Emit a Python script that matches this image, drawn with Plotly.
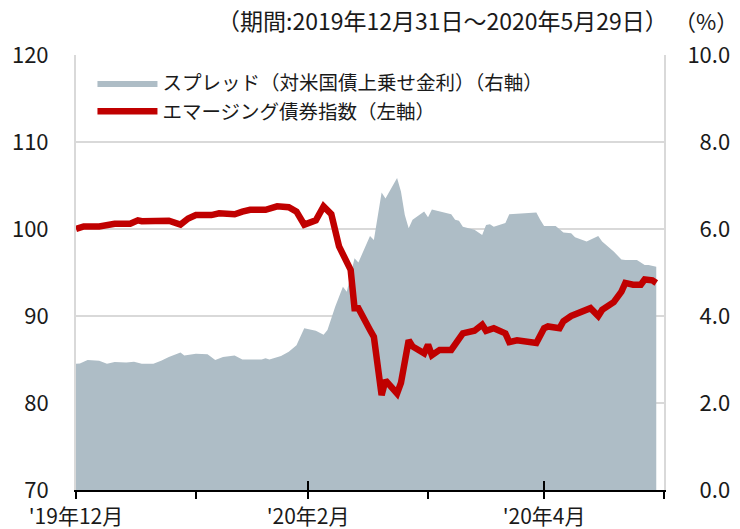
import plotly.graph_objects as go

# ---------------- data ----------------
spread_dates = [
    "2019-12-31", "2020-01-01", "2020-01-03", "2020-01-06", "2020-01-08", "2020-01-10",
    "2020-01-13", "2020-01-15", "2020-01-17", "2020-01-20", "2020-01-22", "2020-01-24",
    "2020-01-27", "2020-01-28", "2020-01-31", "2020-02-03", "2020-02-05", "2020-02-07",
    "2020-02-10", "2020-02-12", "2020-02-15", "2020-02-17", "2020-02-18", "2020-02-19",
    "2020-02-22", "2020-02-24", "2020-02-26", "2020-02-28", "2020-03-02", "2020-03-04",
    "2020-03-05", "2020-03-07", "2020-03-09", "2020-03-10", "2020-03-12", "2020-03-13",
    "2020-03-16", "2020-03-17", "2020-03-19", "2020-03-20", "2020-03-23", "2020-03-24",
    "2020-03-25", "2020-03-26", "2020-03-27", "2020-03-30", "2020-03-31", "2020-04-01",
    "2020-04-06", "2020-04-07", "2020-04-08", "2020-04-09", "2020-04-12", "2020-04-14",
    "2020-04-15", "2020-04-16", "2020-04-17", "2020-04-20", "2020-04-21", "2020-04-24",
    "2020-04-28", "2020-04-29", "2020-04-30", "2020-05-03", "2020-05-05", "2020-05-07",
    "2020-05-08", "2020-05-11", "2020-05-14", "2020-05-15", "2020-05-18", "2020-05-20",
    "2020-05-21", "2020-05-24", "2020-05-26", "2020-05-27", "2020-05-29",
]
spread_values = [
    2.90, 2.91, 2.99, 2.97, 2.90, 2.94,
    2.93, 2.95, 2.90, 2.90, 2.97, 3.06,
    3.16, 3.09, 3.13, 3.12, 2.99, 3.06,
    3.09, 3.00, 3.00, 3.00, 3.03, 3.00,
    3.08, 3.18, 3.33, 3.72, 3.66, 3.57,
    3.68, 4.21, 4.67, 4.56, 5.33, 5.23,
    5.84, 5.75, 6.84, 6.70, 7.17, 6.86,
    6.32, 6.02, 6.21, 6.40, 6.27, 6.45,
    6.34, 6.21, 6.19, 6.05, 5.98, 5.86,
    6.09, 6.11, 6.05, 6.14, 6.34, 6.36,
    6.38, 6.21, 6.07, 6.07, 5.92, 5.90,
    5.81, 5.71, 5.84, 5.71, 5.48, 5.30,
    5.29, 5.29, 5.17, 5.17, 5.13,
]

index_dates = [
    "2019-12-31", "2020-01-02", "2020-01-06", "2020-01-08", "2020-01-10", "2020-01-14",
    "2020-01-16", "2020-01-17", "2020-01-22", "2020-01-24", "2020-01-27", "2020-01-29",
    "2020-01-31", "2020-02-04", "2020-02-06", "2020-02-10", "2020-02-12", "2020-02-14",
    "2020-02-18", "2020-02-19", "2020-02-21", "2020-02-24", "2020-02-26", "2020-02-28",
    "2020-03-02", "2020-03-04", "2020-03-06", "2020-03-08", "2020-03-09", "2020-03-11",
    "2020-03-12", "2020-03-13", "2020-03-16", "2020-03-17", "2020-03-19", "2020-03-20",
    "2020-03-23", "2020-03-24", "2020-03-26", "2020-03-27", "2020-03-30", "2020-03-31",
    "2020-04-01", "2020-04-03", "2020-04-06", "2020-04-07", "2020-04-09", "2020-04-12",
    "2020-04-14", "2020-04-15", "2020-04-17", "2020-04-20", "2020-04-21", "2020-04-23",
    "2020-04-28", "2020-04-30", "2020-05-01", "2020-05-04", "2020-05-05", "2020-05-07",
    "2020-05-12", "2020-05-14", "2020-05-15", "2020-05-18", "2020-05-20", "2020-05-21",
    "2020-05-23", "2020-05-25", "2020-05-26", "2020-05-28", "2020-05-29",
]
index_values = [
    100.0, 100.3, 100.3, 100.5, 100.6, 100.6,
    101.0, 100.9, 101.0, 100.95, 100.5, 101.2,
    101.6, 101.6, 101.8, 101.7, 102.0, 102.2,
    102.2, 102.3, 102.6, 102.5, 102.0, 100.5,
    101.0, 102.6, 101.7, 98.0, 97.2, 95.3,
    90.9, 90.9, 88.4, 87.6, 80.9, 82.6,
    81.1, 82.3, 87.2, 86.5, 85.7, 86.7,
    85.5, 86.1, 86.1, 86.7, 88.0, 88.3,
    89.0, 88.3, 88.6, 88.0, 87.0, 87.2,
    86.9, 88.6, 88.8, 88.6, 89.4, 90.0,
    90.9, 90.0, 90.7, 91.6, 92.8, 93.8,
    93.6, 93.6, 94.2, 94.1, 93.8,
]

spread_name = "スプレッド（対米国債上乗せ金利）（右軸）"
index_name = "エマージング債券指数（左軸）"

x_range = ["2019-12-31", "2020-05-31"]
month_end_ticks = ["2019-12-31", "2020-01-31", "2020-02-29", "2020-03-31", "2020-04-30", "2020-05-31"]
month_tick_labels = ["'19年12月", "", "'20年2月", "", "'20年4月", ""]
major_ticks = ["2019-12-31", "2020-02-29", "2020-04-30"]

left_ticks = [70, 80, 90, 100, 110, 120]
right_ticks = [0, 2, 4, 6, 8, 10]
right_tick_labels = ["\u20070.0", "\u20072.0", "\u20074.0", "\u20076.0", "\u20078.0", "10.0"]

period_text = "（期間:2019年12月31日～2020年5月29日）"
unit_text = "（%）"

# ---------------- style ----------------
FONT = "Noto Sans CJK JP"
AREA = "#aebdc6"
RED = "#c00000"
GRID = "#d9d9d9"
TXT = "#1a1a1a"

fig = go.Figure()
fig.add_trace(go.Scatter(
    x=spread_dates, y=spread_values, name=spread_name, legendgroup="spread",
    mode="lines", fill="tozeroy", fillcolor=AREA,
    line=dict(width=0, color=AREA),
    xaxis="x", yaxis="y",
))
fig.add_trace(go.Scatter(
    x=index_dates, y=index_values, name=index_name, legendgroup="index",
    mode="lines", line=dict(width=6.5, color=RED),
    xaxis="x2", yaxis="y2",
))

fig.update_layout(
    width=740, height=529,
    margin=dict(l=76, r=76, t=55, b=39, autoexpand=False),
    paper_bgcolor="white", plot_bgcolor="white",
    font=dict(family=FONT, size=22, color=TXT),
    showlegend=True,
    legend=dict(
        x=0.028, y=0.980, xanchor="left", yanchor="top",
        bgcolor="rgba(0,0,0,0)", font=dict(size=19.5, color=TXT),
        itemwidth=60, traceorder="grouped", tracegroupgap=0,
    ),
    xaxis=dict(
        type="date", range=x_range, automargin=False,
        tickmode="array", tickvals=month_end_ticks, ticktext=month_tick_labels,
        ticks="outside", ticklen=7, tickwidth=2, tickcolor="black",
        showline=True, linecolor="black", linewidth=2,
        showgrid=False, zeroline=False,
        tickfont=dict(size=21, color=TXT), ticklabelstandoff=0,
    ),
    xaxis2=dict(
        type="date", range=x_range, overlaying="x", anchor="y2", automargin=False,
        tickmode="array", tickvals=major_ticks,
        ticks="inside", ticklen=9, tickwidth=2, tickcolor="black",
        showticklabels=False, showline=False, showgrid=False, zeroline=False,
    ),
    yaxis=dict(
        side="right", range=[0, 10], automargin=False,
        tickmode="array", tickvals=right_ticks, ticktext=right_tick_labels,
        ticks="", showgrid=True, gridcolor=GRID, gridwidth=2,
        showline=True, linecolor=GRID, linewidth=2, zeroline=False,
        tickfont=dict(size=22, color=TXT), ticklabelstandoff=17,
    ),
    yaxis2=dict(
        side="left", overlaying="y", range=[70, 120], automargin=False,
        tickmode="array", tickvals=left_ticks,
        ticks="", showgrid=False,
        showline=True, linecolor=GRID, linewidth=2, zeroline=False,
        tickfont=dict(size=22, color=TXT), ticklabelstandoff=21,
    ),
    annotations=[
        dict(text=period_text, xref="paper", yref="paper",
             x=(670 - 76) / 588, y=(490 - 20) / 435, xanchor="right", yanchor="middle",
             showarrow=False, font=dict(size=23, color=TXT)),
        dict(text=unit_text, xref="paper", yref="paper",
             x=(706 - 76) / 588, y=(490 - 20) / 435, xanchor="center", yanchor="middle",
             showarrow=False, font=dict(size=22, color=TXT)),
    ],
)

fig.write_html(
    "out.html",
    config={"displayModeBar": False},
    post_script="document.body.style.margin='0';document.body.style.padding='0';",
)
